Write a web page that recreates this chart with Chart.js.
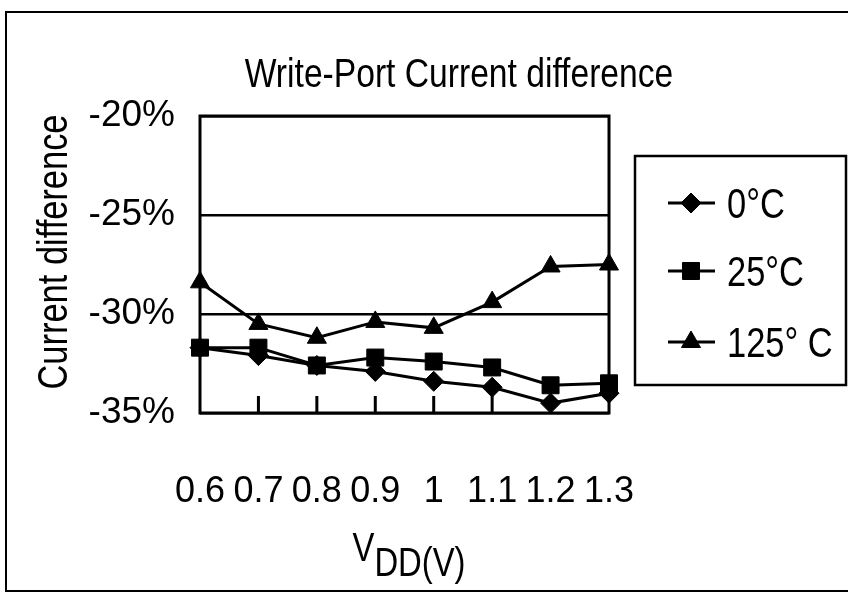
<!DOCTYPE html>
<html>
<head>
<meta charset="utf-8">
<script src="https://cdn.jsdelivr.net/npm/chart.js@4.4.0/dist/chart.umd.min.js"></script>
<style>
  html, body { margin: 0; padding: 0; background: #fff; }
</style>
</head>
<body>
<canvas id="chart" width="848" height="596"></canvas>
<script>
// supply voltage (V)
const categories = ['0.6', '0.7', '0.8', '0.9', '1', '1.1', '1.2', '1.3'];
// current difference in %
const temp0 = [-31.7, -32.1, -32.6, -32.9, -33.4, -33.7, -34.5, -34.0];
const temp25 = [-31.7, -31.7, -32.6, -32.2, -32.4, -32.7, -33.6, -33.5];
const temp125 = [-28.4, -30.5, -31.2, -30.4, -30.7, -29.4, -27.6, -27.5];
const seriesLabels = ['0°C', '25°C', '125° C'];
const yTicks = [-20, -25, -30, -35];
const chartTitle = 'Write-Port Current difference';

const FONT = "'Liberation Sans', Arial, sans-serif";
const NARROW = 0.82; // squeeze to look like the narrow face of the original

// text drawn squeezed horizontally
function narrowText(ctx, text, x, y, size, align, baseline) {
    ctx.save();
    ctx.font = size + 'px ' + FONT;
    ctx.textAlign = align || 'left';
    ctx.textBaseline = baseline || 'alphabetic';
    ctx.translate(x, y);
    ctx.scale(NARROW, 1);
    ctx.fillText(text, 0, 0);
    ctx.restore();
}

function narrowWidth(ctx, text, size) {
    ctx.save();
    ctx.font = size + 'px ' + FONT;
    const w = ctx.measureText(text).width * NARROW;
    ctx.restore();
    return w;
}

function drawMarker(ctx, style, r, x, y) {
    ctx.beginPath();
    if (style === 'rectRot') {
        ctx.moveTo(x, y - r); ctx.lineTo(x + r, y); ctx.lineTo(x, y + r); ctx.lineTo(x - r, y);
    } else if (style === 'rect') {
        const s = Math.SQRT1_2 * r;
        ctx.rect(x - s, y - s, 2 * s, 2 * s);
    } else {
        ctx.moveTo(x, y - r);
        ctx.lineTo(x + r * 0.866, y + r * 0.5);
        ctx.lineTo(x - r * 0.866, y + r * 0.5);
    }
    ctx.closePath();
    ctx.fill();
    ctx.stroke();
}

// frame, inner box, x tick marks, titles and the boxed legend
const extras = {
    id: 'extras',
    beforeDraw(chart) {
        const ctx = chart.ctx;
        ctx.save();
        ctx.fillStyle = '#fff';
        ctx.fillRect(0, 0, chart.width, chart.height);
        ctx.strokeStyle = '#000';
        ctx.lineWidth = 2;
        ctx.strokeRect(6, 12, 860, 579);
        ctx.restore();
    },
    afterDatasetsDraw(chart) {
        const ctx = chart.ctx;
        const a = chart.chartArea;
        const x = chart.scales.x;
        ctx.save();
        ctx.strokeStyle = '#000';
        ctx.lineWidth = 3;
        ctx.strokeRect(a.left, a.top, a.right - a.left, a.bottom - a.top);
        // inner tick marks
        ctx.beginPath();
        for (let i = 1; i < categories.length - 1; i++) {
            const px = x.getPixelForValue(i);
            ctx.moveTo(px, a.bottom);
            ctx.lineTo(px, a.bottom - 17);
        }
        ctx.stroke();

        ctx.fillStyle = '#000';
        // chart title
        narrowText(ctx, chartTitle, 459, 87, 41, 'center');

        // y title
        ctx.save();
        ctx.translate(55, 252);
        ctx.rotate(-Math.PI / 2);
        narrowText(ctx, 'Current difference', 0, 0, 42, 'center', 'middle');
        ctx.restore();

        // x title V_DD(V)
        const wV = narrowWidth(ctx, 'V', 40);
        const wDD = narrowWidth(ctx, 'DD', 40);
        const wP = narrowWidth(ctx, '(V)', 40);
        const sx = 409 - (wV + wDD + wP) / 2;
        narrowText(ctx, 'V', sx, 561, 40);
        narrowText(ctx, 'DD', sx + wV, 576, 40);
        narrowText(ctx, '(V)', sx + wV + wDD, 576, 40);

        // legend
        ctx.lineWidth = 2.5;
        ctx.strokeRect(635, 156, 211, 229);
        const ys = [203, 271, 342];
        chart.data.datasets.forEach((ds, i) => {
            const ly = ys[i];
            ctx.lineWidth = 3;
            ctx.beginPath();
            ctx.moveTo(668, ly);
            ctx.lineTo(715, ly);
            ctx.stroke();
            ctx.lineWidth = 1;
            drawMarker(ctx, ds.pointStyle, ds.pointRadius, 691, ly);
            narrowText(ctx, ds.label, 727, ly + 15, 42);
        });
        ctx.restore();
    }
};

function makeSet(label, data, style, radius) {
    return {
        label: label,
        data: data,
        borderColor: '#000',
        backgroundColor: '#000',
        borderWidth: 3,
        pointStyle: style,
        pointRadius: radius,
        pointBorderWidth: 1,
        pointBackgroundColor: '#000',
        pointBorderColor: '#000',
        tension: 0
    };
}

new Chart(document.getElementById('chart'), {
    type: 'line',
    data: {
        labels: categories,
        datasets: [
            makeSet(seriesLabels[0], temp0, 'rectRot', 10),
            makeSet(seriesLabels[1], temp25, 'rect', 12),
            makeSet(seriesLabels[2], temp125, 'triangle', 11)
        ]
    },
    options: {
        responsive: false,
        devicePixelRatio: 1,
        animation: false,
        layout: { padding: { left: 0, right: 239, top: 116, bottom: 0 } },
        plugins: {
            legend: { display: false },
            tooltip: { enabled: false },
            title: { display: false }
        },
        scales: {
            x: {
                type: 'category',
                offset: false,
                grid: { display: false },
                border: { display: false },
                ticks: {
                    color: '#000',
                    font: { family: FONT, size: 36 },
                    padding: 49,
                    maxRotation: 0,
                    autoSkip: false
                },
                afterFit(s) { s.height = 183; }
            },
            y: {
                min: -35,
                max: -20,
                afterBuildTicks(s) { s.ticks = yTicks.map(v => ({ value: v })); },
                grid: { color: '#000', lineWidth: 2.5, drawTicks: false },
                border: { display: false },
                ticks: {
                    color: '#000',
                    font: { family: FONT, size: 37 },
                    padding: 25,
                    callback: v => v + '%'
                },
                afterFit(s) { s.width = 200; }
            }
        }
    },
    plugins: [extras]
});
</script>
</body>
</html>
